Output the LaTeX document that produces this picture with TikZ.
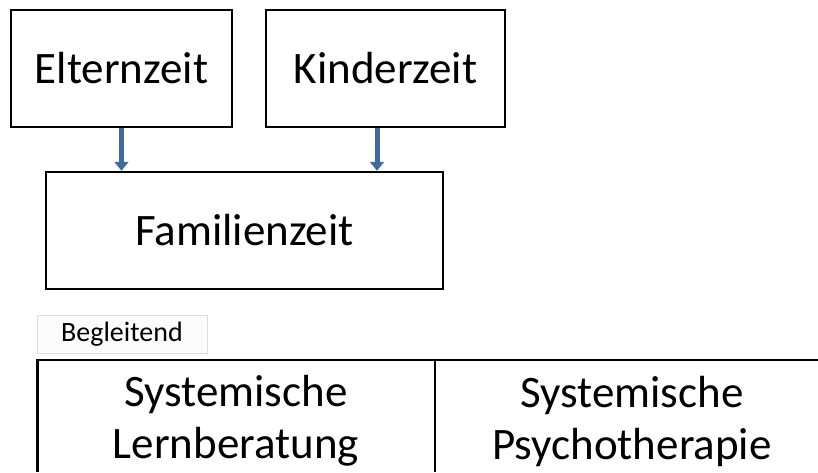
\documentclass[tikz,border=0pt]{standalone}
\usepackage{fontspec}
\setmainfont{Carlito}
\usetikzlibrary{arrows.meta,positioning}
\definecolor{arrowblue}{RGB}{61,107,158}

\begin{document}
\begin{tikzpicture}[x=1pt,y=-1pt,
    box/.style={draw,line width=2.5pt,inner sep=0pt,minimum height=117pt,font=\fontsize{45}{54}\selectfont},
    labelbox/.style={draw=black!13,fill=black!1,line width=0.8pt,inner sep=0pt,minimum width=170pt,minimum height=38pt,font=\fontsize{28}{34}\selectfont},
    cell/.style={align=center,inner sep=0pt,font=\fontsize{45}{52}\selectfont},
    pfeil/.style={-{Triangle[width=14pt,length=9pt]},line width=5pt,draw=arrowblue},
    tableline/.style={line width=2.7pt}]

    \useasboundingbox (0,0) rectangle (818,472);

    \node[box,minimum width=221pt] (elt) at (121.5,68.5) {Elternzeit};
    \node[box,minimum width=239pt] (kind) at (385.5,68.5) {Kinderzeit};
    \node[box,minimum width=397pt] (fam) at (244.5,230.5) {Familienzeit};

    \draw[pfeil] (elt.south) -- (elt.south |- fam.north);
    \draw[pfeil] ([xshift=-8.5pt]kind.south) -- ([xshift=-8.5pt]kind.south |- fam.north);

    \node[labelbox] (begl) at (122,334) {Begleitend};

    % angeschnittene Tabelle
    \coordinate (tl) at (37.5,360);
    \coordinate (tm) at (435,360);
    \coordinate (tr) at (818,360);
    \coordinate (bl) at (37.5,472);
    \coordinate (bm) at (435,472);
    \draw[tableline] (bl) -- (tl) -- (tr);
    \draw[tableline] (tm) -- (bm);

    \node[cell] (lern) at (236,421) {Systemische\\Lernberatung};
    \node[cell] (psych) at (632,421) {Systemische\\Psychotherapie};

\end{tikzpicture}
\end{document}
